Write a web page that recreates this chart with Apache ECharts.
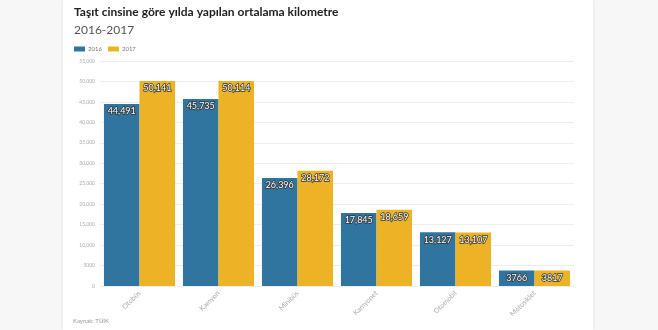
<!DOCTYPE html>
<html>
<head>
<meta charset="utf-8">
<script src="https://cdn.jsdelivr.net/npm/echarts@6/dist/echarts.min.js"></script>
<style>
  html, body { margin: 0; padding: 0; background: #f7f7f7; }
  #card { position: absolute; left: 63px; top: 0; width: 530px; height: 330px; background: #fff;
          box-shadow: 0 0 3px rgba(0,0,0,0.12); }
  #chart { position: absolute; left: 0; top: 0; width: 658px; height: 330px; }
</style>
</head>
<body>
<div id="card"></div>
<div id="chart"></div>
<script>
// Vehicle types and average yearly kilometres (TÜİK)
const categories = ['Otobüs', 'Kamyon', 'Minibüs', 'Kamyonet', 'Otomobil', 'Motosiklet'];
const values2016 = [44491, 45735, 26396, 17845, 13127, 3766];
const values2017 = [50141, 50114, 28172, 18659, 13107, 3817];
const yearNames = ['2016', '2017'];

const fontFamily = 'Lato, "Noto Sans", sans-serif';

function fmt(v) {
  return v >= 10000 ? v.toLocaleString('en-US') : String(v);
}

const barLabel = {
  show: true,
  position: 'insideTop',
  distance: 3,
  color: '#fff',
  fontSize: 9,
  fontFamily: fontFamily,
  textBorderColor: '#333',
  textBorderWidth: 1.5,
  formatter: p => fmt(p.value)
};

const chart = echarts.init(document.getElementById('chart'), null, { renderer: 'canvas' });
chart.setOption({
  backgroundColor: 'transparent',
  animation: false,
  title: [
    {
      text: 'Taşıt cinsine göre yılda yapılan ortalama kilometre',
      left: 74, top: 6, padding: 0,
      textStyle: { fontSize: 12, fontWeight: 'bold', color: '#222', fontFamily: fontFamily }
    },
    {
      text: '2016-2017',
      left: 74, top: 24, padding: 0,
      textStyle: { fontSize: 12, fontWeight: 'normal', color: '#555', fontFamily: fontFamily }
    },
    {
      text: 'Kaynak: TÜİK',
      left: 73, top: 318, padding: 0,
      textStyle: { fontSize: 6, fontWeight: 'normal', color: '#999', fontFamily: fontFamily }
    }
  ],
  legend: {
    left: 69, top: 41,
    itemWidth: 11, itemHeight: 5, itemGap: 6,
    icon: 'rect',
    textStyle: { fontSize: 6, color: '#777', fontFamily: fontFamily, padding: [0, 0, 0, -2] },
    data: yearNames
  },
  grid: { left: 100, right: 84, top: 61, bottom: 44, containLabel: false },
  xAxis: {
    type: 'category',
    data: categories,
    axisLine: { show: false },
    axisTick: { show: false },
    axisLabel: { rotate: 45, fontSize: 7, color: '#aaa', fontFamily: fontFamily, margin: 6 }
  },
  yAxis: {
    type: 'value',
    min: 0, max: 55000, interval: 5000,
    axisLine: { show: false },
    axisTick: { show: false },
    splitLine: { lineStyle: { color: '#eeeeee', width: 1 } },
    axisLabel: { fontSize: 5, color: '#aaa', fontFamily: fontFamily, margin: 5, formatter: v => fmt(v) }
  },
  series: [
    {
      name: yearNames[0], type: 'bar', data: values2016,
      itemStyle: { color: '#30759f' },
      barGap: '0%', barCategoryGap: '10%',
      label: barLabel
    },
    {
      name: yearNames[1], type: 'bar', data: values2017,
      itemStyle: { color: '#ebb325' },
      label: barLabel
    }
  ]
});
</script>
</body>
</html>
